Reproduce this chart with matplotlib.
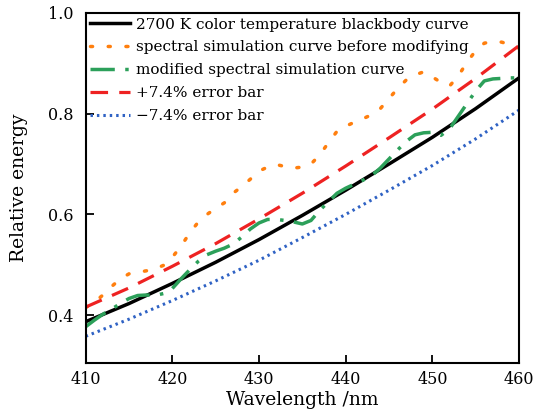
import numpy as np
import matplotlib.pyplot as plt

# wavelength grids
wl_5 = [410, 415, 420, 425, 430, 435, 440, 445, 450, 455, 460]
wl_1 = list(range(410, 461))

# 2700 K blackbody and the +/-7.4% bounds
blackbody = [0.387, 0.423, 0.463, 0.505, 0.550, 0.598, 0.648, 0.700, 0.753, 0.810, 0.871]
err_plus = [0.416, 0.454, 0.497, 0.542, 0.591, 0.642, 0.696, 0.752, 0.809, 0.870, 0.935]
err_minus = [0.358, 0.392, 0.429, 0.468, 0.509, 0.554, 0.600, 0.648, 0.697, 0.750, 0.807]

# spectral simulation before modifying
sim_before = [0.415, 0.426, 0.440, 0.457, 0.472, 0.482, 0.485, 0.488, 0.492, 0.499,
              0.515, 0.537, 0.563, 0.585, 0.600, 0.612, 0.623, 0.642, 0.655, 0.670,
              0.686, 0.694, 0.699, 0.695, 0.692, 0.694, 0.700, 0.718, 0.742, 0.765,
              0.775, 0.783, 0.790, 0.798, 0.810, 0.830, 0.850, 0.867, 0.877, 0.883,
              0.873, 0.862, 0.855, 0.875, 0.902, 0.925, 0.940, 0.943, 0.942, 0.937,
              0.930]

# modified spectral simulation
sim_mod = [0.377, 0.390, 0.402, 0.412, 0.423, 0.433, 0.439, 0.440, 0.439, 0.443,
           0.453, 0.472, 0.490, 0.507, 0.520, 0.527, 0.533, 0.541, 0.555, 0.571,
           0.583, 0.590, 0.590, 0.588, 0.585, 0.581, 0.588, 0.608, 0.625, 0.642,
           0.652, 0.660, 0.668, 0.677, 0.692, 0.710, 0.728, 0.745, 0.758, 0.762,
           0.763, 0.757, 0.770, 0.795, 0.820, 0.845, 0.865, 0.869, 0.870, 0.871,
           0.871]

plt.rcParams['font.family'] = ['DejaVu Serif']
plt.rcParams['font.size'] = 11

fig = plt.figure(figsize=(5.44, 4.17), dpi=100)
ax = fig.add_axes([0.1575, 0.1295, 0.7965, 0.8395])

ax.plot(wl_5, blackbody, color='black', lw=2.5,
        label='2700 K color temperature blackbody curve')
ax.plot(wl_1, sim_before, color='#ff7f0e', lw=2.5, linestyle=(0, (0.6, 4.5)),
        dash_capstyle='round', label='spectral simulation curve before modifying')
ax.plot(wl_1, sim_mod, color='#2ca05a', lw=2.5, linestyle=(0, (7, 3, 1, 3)),
        label='modified spectral simulation curve')
ax.plot(wl_5, err_plus, color='#ee2222', lw=2.3, linestyle=(0, (5.5, 3.5)),
        label='+7.4% error bar')
ax.plot(wl_5, err_minus, color='#2f62c4', lw=2.2, linestyle=(0, (0.8, 1.3)),
        label='\u22127.4% error bar')

ax.set_xlim(410, 460)
ax.set_ylim(0.305, 1.0)
ax.set_xticks([410, 420, 430, 440, 450, 460])
ax.set_yticks([0.4, 0.6, 0.8, 1.0])
ax.tick_params(direction='in', length=6, width=1.3, labelsize=11.5)
ax.tick_params(axis='x', pad=6)
ax.tick_params(axis='y', pad=9)
for s in ax.spines.values():
    s.set_linewidth(1.5)

ax.set_xlabel('Wavelength /nm', fontsize=13.5, labelpad=2)
ax.set_ylabel('Relative energy', fontsize=13.5, labelpad=14)

ax.legend(loc='upper left', frameon=False, fontsize=11, handlelength=2.6,
          handletextpad=0.4, labelspacing=0.58, borderaxespad=0.1,
          borderpad=0.2)

fig.savefig('out.png', dpi=100)
